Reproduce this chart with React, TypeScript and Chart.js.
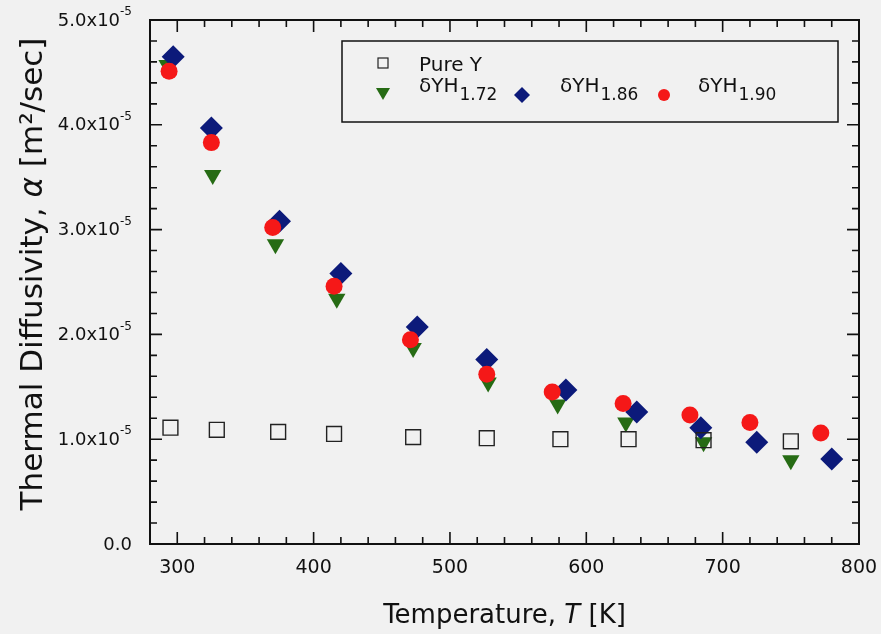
import React, { useEffect, useRef } from 'react';
import { Chart, registerables } from 'chart.js';

Chart.register(...registerables);

// Values in units of 1e-5 m^2/sec
const UNIT = 1e-5;

const PURE_Y_T = [295, 329, 374, 415, 473, 527, 581, 631, 686, 750];
const PURE_Y_A = [1.11, 1.09, 1.07, 1.05, 1.02, 1.01, 1.0, 1.0, 0.99, 0.98];

const YH172_T = [292.5, 326, 372, 417, 473, 528, 579, 629, 686, 750];
const YH172_A = [4.57, 3.52, 2.86, 2.34, 1.87, 1.54, 1.33, 1.16, 0.97, 0.8];

const YH186_T = [297, 325, 375, 420, 476, 527, 585, 637, 684, 725, 780];
const YH186_A = [4.65, 3.97, 3.08, 2.58, 2.07, 1.76, 1.47, 1.26, 1.11, 0.97, 0.81];

const YH190_T = [294, 325, 370, 415, 471, 527, 575, 627, 676, 720, 772];
const YH190_A = [4.51, 3.83, 3.02, 2.46, 1.95, 1.62, 1.45, 1.34, 1.23, 1.16, 1.06];

const X_TICKS = [300, 400, 500, 600, 700, 800];
const Y_TICKS = [0, 1e-5, 2e-5, 3e-5, 4e-5, 5e-5];
const Y_TICK_MANT = ['0.0', '1.0x10', '2.0x10', '3.0x10', '4.0x10', '5.0x10'];
const Y_TICK_EXP = ['', '-5', '-5', '-5', '-5', '-5'];

const X_MIN = 280;
const X_MAX = 800;
const Y_MIN = 0;
const Y_MAX = 5e-5;
const X_MINOR = 20;
const Y_MINOR = 0.2e-5;

const FONT = "'DejaVu Sans', sans-serif";
const INK = '#111111';
const GREEN = '#266b14';
const NAVY = '#0c1a7a';
const RED = '#f51818';

const pts = (xs: number[], ys: number[]) => xs.map((x, i) => ({ x, y: ys[i] * UNIT }));

const bgPlugin = {
  id: 'bg',
  beforeDraw(chart: any) {
    const { ctx, width, height } = chart;
    ctx.save();
    ctx.fillStyle = '#f1f1f1';
    ctx.fillRect(0, 0, width, height);
    ctx.restore();
  },
};

const framePlugin = {
  id: 'frame',
  afterDraw(chart: any) {
    const { ctx, chartArea: a, scales } = chart;
    const xs = scales.x;
    const ys = scales.y;
    ctx.save();
    ctx.strokeStyle = INK;
    ctx.lineWidth = 1.6;
    // minor / major ticks, inward, all four sides
    const nx = Math.round((X_MAX - X_MIN) / X_MINOR);
    for (let i = 0; i <= nx; i++) {
      const v = X_MIN + i * X_MINOR;
      const major = v % 100 === 0;
      const len = major ? 12 : 7;
      const px = xs.getPixelForValue(v);
      ctx.beginPath();
      ctx.moveTo(px, a.bottom);
      ctx.lineTo(px, a.bottom - len);
      ctx.moveTo(px, a.top);
      ctx.lineTo(px, a.top + len);
      ctx.stroke();
    }
    const ny = Math.round((Y_MAX - Y_MIN) / Y_MINOR);
    for (let i = 0; i <= ny; i++) {
      const v = Y_MIN + i * Y_MINOR;
      const major = i % 5 === 0;
      const len = major ? 12 : 7;
      const py = ys.getPixelForValue(v);
      ctx.beginPath();
      ctx.moveTo(a.left, py);
      ctx.lineTo(a.left + len, py);
      ctx.moveTo(a.right, py);
      ctx.lineTo(a.right - len, py);
      ctx.stroke();
    }
    ctx.lineWidth = 2;
    ctx.strokeRect(a.left, a.top, a.right - a.left, a.bottom - a.top);

    // y tick labels with superscript exponent
    ctx.fillStyle = INK;
    Y_TICKS.forEach((v, i) => {
      const py = ys.getPixelForValue(v);
      const right = a.left - 18;
      ctx.textBaseline = 'middle';
      ctx.textAlign = 'right';
      let mx = right;
      if (Y_TICK_EXP[i]) {
        ctx.font = `12px ${FONT}`;
        const ew = ctx.measureText(Y_TICK_EXP[i]).width;
        ctx.textAlign = 'left';
        ctx.fillText(Y_TICK_EXP[i], right - ew, py - 8);
        mx = right - ew;
      }
      ctx.textAlign = 'right';
      ctx.font = `18px ${FONT}`;
      ctx.fillText(Y_TICK_MANT[i], mx, py + 1);
    });
    ctx.textAlign = 'left';

    // axis titles
    ctx.fillStyle = INK;
    ctx.textBaseline = 'alphabetic';
    const xParts: [string, string][] = [
      ['Temperature, ', `26px ${FONT}`],
      ['T', `italic 26px ${FONT}`],
      [' [K]', `26px ${FONT}`],
    ];
    let w = 0;
    xParts.forEach(([t, f]) => { ctx.font = f; w += ctx.measureText(t).width; });
    let cx = (a.left + a.right) / 2 - w / 2;
    xParts.forEach(([t, f]) => { ctx.font = f; ctx.fillText(t, cx, 623); cx += ctx.measureText(t).width; });

    const yParts: [string, string][] = [
      ['Thermal Diffusivity, ', `31px ${FONT}`],
      ['α', `italic 31px ${FONT}`],
      [' [m²/sec]', `31px ${FONT}`],
    ];
    w = 0;
    yParts.forEach(([t, f]) => { ctx.font = f; w += ctx.measureText(t).width; });
    ctx.save();
    ctx.translate(42, (a.top + a.bottom) / 2 - 8);
    ctx.rotate(-Math.PI / 2);
    let cy = -w / 2;
    yParts.forEach(([t, f]) => { ctx.font = f; ctx.fillText(t, cy, 0); cy += ctx.measureText(t).width; });
    ctx.restore();

    // legend
    ctx.lineWidth = 1.5;
    ctx.strokeStyle = INK;
    ctx.strokeRect(342, 41, 496, 81);

    ctx.lineWidth = 1.2;
    ctx.strokeStyle = '#222';
    ctx.strokeRect(383 - 5, 63 - 5, 10, 10);
    ctx.fillStyle = GREEN;
    ctx.beginPath();
    ctx.moveTo(383 - 7, 88);
    ctx.lineTo(383 + 7, 88);
    ctx.lineTo(383, 100);
    ctx.closePath();
    ctx.fill();
    ctx.fillStyle = NAVY;
    ctx.beginPath();
    ctx.moveTo(522, 95 - 8);
    ctx.lineTo(522 + 8, 95);
    ctx.lineTo(522, 95 + 8);
    ctx.lineTo(522 - 8, 95);
    ctx.closePath();
    ctx.fill();
    ctx.fillStyle = RED;
    ctx.beginPath();
    ctx.arc(664, 95, 6, 0, Math.PI * 2);
    ctx.fill();

    ctx.fillStyle = INK;
    ctx.font = `20px ${FONT}`;
    ctx.fillText('Pure Y', 419, 71);
    const sub = (x: number, s: string) => {
      ctx.font = `20px ${FONT}`;
      ctx.fillText('δYH', x, 92);
      const ww = ctx.measureText('δYH').width;
      ctx.font = `17px ${FONT}`;
      ctx.fillText(s, x + ww + 1, 100);
    };
    sub(419, '1.72');
    sub(560, '1.86');
    sub(698, '1.90');
    ctx.restore();
  },
};

export default function App() {
  const ref = useRef<HTMLCanvasElement>(null);
  useEffect(() => {
    document.body.style.margin = '0';
    Chart.defaults.font.family = FONT;
    const chart = new Chart(ref.current as HTMLCanvasElement, {
      type: 'scatter',
      data: {
        datasets: [
          {
            label: 'Pure Y',
            data: pts(PURE_Y_T, PURE_Y_A),
            pointStyle: 'rect',
            pointRadius: 10.5,
            backgroundColor: 'rgba(0,0,0,0)',
            borderColor: '#222222',
            pointBorderWidth: 1.4,
            order: 0,
          },
          {
            label: 'δYH1.90',
            data: pts(YH190_T, YH190_A),
            pointStyle: 'circle',
            pointRadius: 8.5,
            backgroundColor: RED,
            borderColor: RED,
            pointBorderWidth: 0,
            order: 1,
          },
          {
            label: 'δYH1.86',
            data: pts(YH186_T, YH186_A),
            pointStyle: 'rectRot',
            pointRadius: 11.5,
            backgroundColor: NAVY,
            borderColor: NAVY,
            pointBorderWidth: 0,
            order: 2,
          },
          {
            label: 'δYH1.72',
            data: pts(YH172_T, YH172_A),
            pointStyle: 'triangle',
            pointRotation: 180,
            pointRadius: 10,
            backgroundColor: GREEN,
            borderColor: GREEN,
            pointBorderWidth: 0,
            order: 3,
          },
        ],
      },
      options: {
        animation: false,
        responsive: false,
        maintainAspectRatio: false,
        layout: { padding: { left: 0, right: 22, top: 20, bottom: 0 } },
        plugins: { legend: { display: false }, tooltip: { enabled: false }, title: { display: false } },
        scales: {
          x: {
            type: 'linear',
            min: X_MIN,
            max: X_MAX,
            grid: { display: false, drawTicks: false },
            border: { display: false },
            afterBuildTicks: (s: any) => { s.ticks = X_TICKS.map((value) => ({ value })); },
            afterFit: (s: any) => { s.height = 90; s.paddingLeft = 0; s.paddingRight = 0; },
            ticks: {
              font: { size: 19, family: FONT },
              color: INK,
              padding: 13,
              maxRotation: 0,
              callback: (v: any) => String(v),
            },
          },
          y: {
            type: 'linear',
            min: Y_MIN,
            max: Y_MAX,
            grid: { display: false, drawTicks: false },
            border: { display: false },
            afterBuildTicks: (s: any) => { s.ticks = Y_TICKS.map((value) => ({ value })); },
            afterFit: (s: any) => { s.width = 150; s.paddingTop = 0; s.paddingBottom = 0; },
            ticks: { display: false },
          },
        },
      } as any,
      plugins: [bgPlugin, framePlugin],
    });
    return () => chart.destroy();
  }, []);
  return (
    <div style={{ width: 881, height: 634 }}>
      <canvas ref={ref} width={881} height={634} style={{ display: 'block' }} />
    </div>
  );
}
